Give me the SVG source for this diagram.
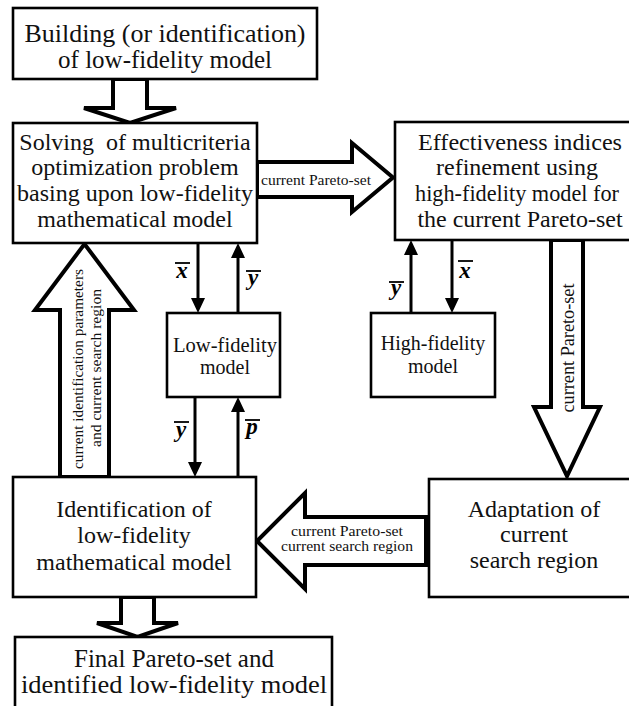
<svg xmlns="http://www.w3.org/2000/svg" width="629" height="706" viewBox="0 0 629 706">
<style>
.box{fill:#fff;stroke:#000;stroke-width:2.6}
.blk{fill:#fff;stroke:#000;stroke-width:4;stroke-linejoin:miter}
.t26{font-family:"Liberation Serif","Times New Roman",serif;font-size:25px;text-anchor:middle;fill:#111}
.t24{font-family:"Liberation Serif","Times New Roman",serif;font-size:24px;text-anchor:middle;fill:#111}
.t21{font-family:"Liberation Serif","Times New Roman",serif;font-size:20px;text-anchor:middle;fill:#111}
.sm{font-family:"Liberation Serif","Times New Roman",serif;font-size:15px;text-anchor:middle;fill:#111}
.var{font-family:"Liberation Serif","Times New Roman",serif;font-size:23px;font-style:italic;font-weight:bold;text-anchor:middle;fill:#000}
.ln{stroke:#000;stroke-width:3;fill:none}
.bar{stroke:#000;stroke-width:1.8}
</style>
<defs>
<marker id="ah" viewBox="0 0 15 14" refX="5" refY="7" markerWidth="15" markerHeight="14" markerUnits="userSpaceOnUse" orient="auto">
<path d="M0,0 L15,7 L0,14 z" fill="#000"/>
</marker>
</defs>

<g id="connectors">
<polygon class="blk" points="113,79 147,79 147,108 176,108 130,123 84,108 113,108"/>
<polygon class="blk" points="257,162 352,162 352,143 393,177.5 352,212 352,197 257,197"/>
<text class="sm" x="316" y="185" textLength="110" lengthAdjust="spacingAndGlyphs">current Pareto-set</text>
<polygon class="blk" points="60,477 60,310 35,310 84.5,244 134,310 109,310 109,477"/>
<text class="sm" transform="translate(83,369) rotate(-90)" textLength="200" lengthAdjust="spacingAndGlyphs">current identification parameters</text>
<text class="sm" transform="translate(101,368) rotate(-90)" textLength="158" lengthAdjust="spacingAndGlyphs">and current search region</text>
<polygon class="blk" points="551,240 583,240 583,407 600,407 567,476 534,407 551,407"/>
<text class="sm" style="font-size:18px" transform="translate(574,348) rotate(-90)" textLength="129" lengthAdjust="spacingAndGlyphs">current Pareto-set</text>
<polygon class="blk" points="426,517 426,565 305,565 305,589 257,541 305,493 305,517"/>
<text class="sm" x="347" y="536" textLength="112" lengthAdjust="spacingAndGlyphs">current Pareto-set</text>
<text class="sm" x="347" y="551" textLength="132" lengthAdjust="spacingAndGlyphs">current search region</text>
<polygon class="blk" points="121,597 154,597 154,623 178,623 137.5,637 97,623 121,623"/>

<line class="ln" x1="198" y1="243" x2="198" y2="303" marker-end="url(#ah)"/>
<line class="ln" x1="238" y1="313" x2="238" y2="253" marker-end="url(#ah)"/>
<line class="ln" x1="195" y1="397" x2="195" y2="467" marker-end="url(#ah)"/>
<line class="ln" x1="238" y1="477" x2="238" y2="407" marker-end="url(#ah)"/>
<line class="ln" x1="411" y1="313" x2="411" y2="250" marker-end="url(#ah)"/>
<line class="ln" x1="452" y1="240" x2="452" y2="303" marker-end="url(#ah)"/>

<text class="var" x="182" y="278">x</text><line class="bar" x1="175" y1="263" x2="190" y2="263"/>
<text class="var" x="253" y="285">y</text><line class="bar" x1="246" y1="271" x2="261" y2="271"/>
<text class="var" x="181" y="437">y</text><line class="bar" x1="174" y1="422" x2="189" y2="422"/>
<text class="var" x="252" y="434">p</text><line class="bar" x1="245" y1="420" x2="260" y2="420"/>
<text class="var" x="396" y="295">y</text><line class="bar" x1="389" y1="282" x2="404" y2="282"/>
<text class="var" x="465" y="278">x</text><line class="bar" x1="458" y1="261" x2="473" y2="261"/>
</g>

<g id="n-building">
<rect class="box" x="13" y="8" width="304" height="71"/>
<text class="t26" x="165" y="42" textLength="281" lengthAdjust="spacingAndGlyphs">Building (or identification)</text>
<text class="t26" x="165" y="68">of low-fidelity model</text>
</g>

<g id="n-solving">
<rect class="box" x="13" y="123" width="244" height="120"/>
<text class="t24" x="135" y="150" xml:space="preserve">Solving  of multicriteria</text>
<text class="t24" x="135" y="175">optimization problem</text>
<text class="t24" x="135" y="201">basing upon low-fidelity</text>
<text class="t24" x="135" y="227">mathematical model</text>
</g>

<g id="n-effectiveness">
<rect class="box" x="395" y="122" width="256" height="118"/>
<text class="t24" x="520" y="150" textLength="204" lengthAdjust="spacingAndGlyphs">Effectiveness indices</text>
<text class="t24" x="517" y="175">refinement using</text>
<text class="t24" x="517" y="201" textLength="204" lengthAdjust="spacingAndGlyphs">high-fidelity model for</text>
<text class="t24" x="520" y="227">the current Pareto-set</text>
</g>

<g id="n-lowfid">
<rect class="box" x="167" y="313" width="113" height="84"/>
<text class="t21" x="225" y="352" textLength="104" lengthAdjust="spacingAndGlyphs">Low-fidelity</text>
<text class="t21" x="225" y="374">model</text>
</g>

<g id="n-highfid">
<rect class="box" x="371" y="313" width="124" height="84"/>
<text class="t21" x="433" y="350">High-fidelity</text>
<text class="t21" x="433" y="373">model</text>
</g>

<g id="n-identification">
<rect class="box" x="13" y="477" width="243" height="120"/>
<text class="t24" x="134" y="517">Identification of</text>
<text class="t24" x="134" y="543">low-fidelity</text>
<text class="t24" x="134" y="570">mathematical model</text>
</g>

<g id="n-adaptation">
<rect class="box" x="429" y="479" width="222" height="118"/>
<text class="t24" x="534" y="517">Adaptation of</text>
<text class="t24" x="534" y="542">current</text>
<text class="t24" x="534" y="568">search region</text>
</g>

<g id="n-final">
<rect class="box" x="15" y="637" width="317" height="80"/>
<text class="t26" x="174" y="667">Final Pareto-set and</text>
<text class="t26" x="174" y="693" textLength="306" lengthAdjust="spacingAndGlyphs">identified low-fidelity model</text>
</g>
</svg>
